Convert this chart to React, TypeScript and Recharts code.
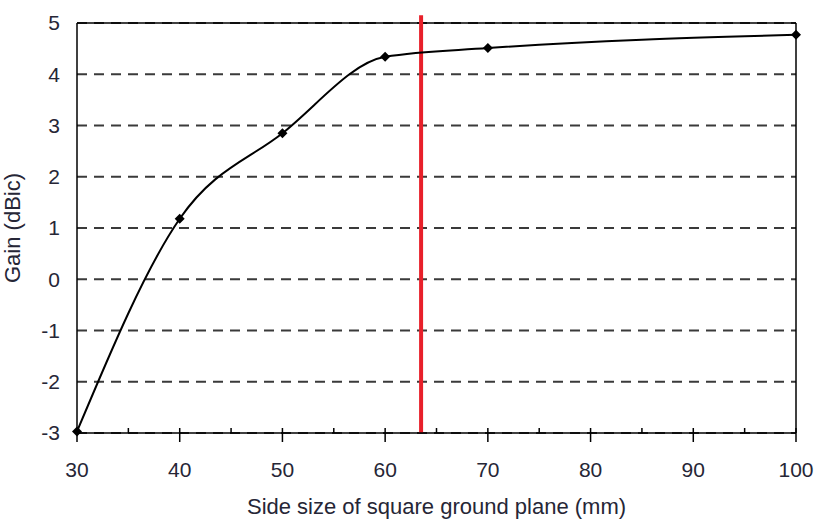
import React from 'react';
import {
  LineChart,
  Line,
  XAxis,
  YAxis,
  CartesianGrid,
  ReferenceLine,
  Label,
} from 'recharts';

const SIZES = [30, 40, 50, 60, 70, 100];
const GAIN = [-2.97, 1.18, 2.85, 4.34, 4.51, 4.77];
const X_TICKS = [30, 35, 40, 45, 50, 55, 60, 65, 70, 75, 80, 85, 90, 95, 100];
const Y_TICKS = [-3, -2, -1, 0, 1, 2, 3, 4, 5];
const CUTOFF = 63.5;

const data = SIZES.map((size, i) => ({ size, gain: GAIN[i] }));

const FONT = '"Liberation Sans", Arial, sans-serif';
const TEXT = '#262636';
const TICK_GAP = 29;

const XTick = ({ x, y, payload }: any) => {
  const axisY = y - TICK_GAP;
  const major = payload.value % 10 === 0;
  return (
    <g>
      {major ? (
        <line x1={x} x2={x} y1={axisY - 5} y2={axisY + 9} stroke="#000" strokeWidth={1.5} />
      ) : (
        <line x1={x} x2={x} y1={axisY - 5} y2={axisY} stroke="#000" strokeWidth={1.5} />
      )}
      {major && (
        <text x={x} y={y} dy="0.71em" textAnchor="middle" fontSize={21} fill={TEXT} fontFamily={FONT}>
          {payload.value}
        </text>
      )}
    </g>
  );
};

const Diamond = ({ cx, cy }: any) => {
  if (cx == null || cy == null) return null;
  const r = 5;
  return (
    <polygon
      points={`${cx},${cy - r} ${cx + r},${cy} ${cx},${cy + r} ${cx - r},${cy}`}
      fill="#000"
    />
  );
};

export default function App() {
  return (
    <div style={{ position: 'absolute', left: 0, top: 0, background: '#fff' }}>
      <LineChart
        width={816}
        height={520}
        data={data}
        margin={{ top: 23, right: 20, bottom: 0, left: 0 }}
      >
        <CartesianGrid
          horizontal
          vertical={false}
          stroke="#3a3a3a"
          strokeWidth={2}
          strokeDasharray="10 7"
        />
        <XAxis
          dataKey="size"
          type="number"
          domain={[30, 100]}
          ticks={X_TICKS}
          interval={0}
          height={87}
          tickSize={0}
          tickMargin={TICK_GAP}
          tickLine={false}
          tick={<XTick />}
          axisLine={{ stroke: '#000', strokeWidth: 1.5 }}
        >
          <Label
            value="Side size of square ground plane (mm)"
            position="insideBottom"
            offset={6}
            style={{ fontSize: 22, fill: TEXT, fontFamily: FONT }}
          />
        </XAxis>
        <YAxis
          type="number"
          domain={[-3, 5]}
          ticks={Y_TICKS}
          interval={0}
          width={77}
          tickSize={0}
          tickMargin={17}
          tickLine={false}
          axisLine={{ stroke: '#000', strokeWidth: 1.5 }}
          tick={{ fontSize: 21, fill: TEXT, fontFamily: FONT }}
        >
          <Label
            value="Gain (dBic)"
            angle={-90}
            position="insideLeft"
            offset={12}
            style={{ fontSize: 22, fill: TEXT, fontFamily: FONT, textAnchor: 'middle' }}
          />
        </YAxis>
        <ReferenceLine y={5} stroke="#000" strokeWidth={1.5} />
        <ReferenceLine x={100} stroke="#000" strokeWidth={1.5} />
        <ReferenceLine
          segment={[
            { x: CUTOFF, y: -3 },
            { x: CUTOFF, y: 5.15 },
          ]}
          ifOverflow="visible"
          stroke="#e8202a"
          strokeWidth={4}
        />
        <Line
          type="monotone"
          dataKey="gain"
          stroke="#000"
          strokeWidth={2}
          dot={<Diamond />}
          activeDot={false}
          isAnimationActive={false}
        />
      </LineChart>
    </div>
  );
}
